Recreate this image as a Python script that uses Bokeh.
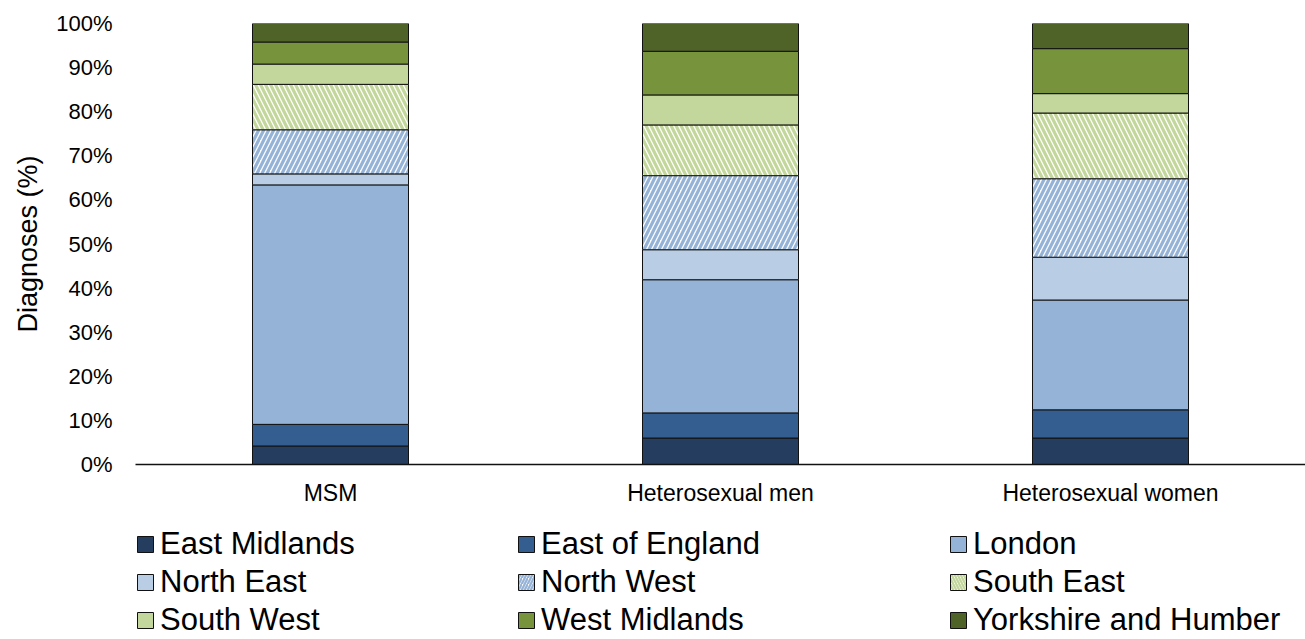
from bokeh.plotting import figure
from bokeh.layouts import column
from bokeh.models import Range1d, FixedTicker, PrintfTickFormatter, Legend, LegendItem
from bokeh.embed import file_html
from bokeh.resources import INLINE

groups = ["MSM", "Heterosexual men", "Heterosexual women"]
regions = ["East Midlands", "East of England", "London", "North East", "North West",
           "South East", "South West", "West Midlands", "Yorkshire and Humber"]

east_midlands = [4.2, 6.0, 6.0]
east_of_england = [4.9, 5.7, 6.4]
london = [54.3, 30.2, 24.9]
north_east = [2.5, 6.8, 9.7]
north_west = [10.0, 16.8, 17.8]
south_east = [10.3, 11.5, 14.9]
south_west = [4.6, 6.8, 4.4]
west_midlands = [5.0, 9.9, 10.2]
yorkshire_humber = [4.2, 6.3, 5.7]

y_ticks = [0, 10, 20, 30, 40, 50, 60, 70, 80, 90, 100]

series = [east_midlands, east_of_england, london, north_east, north_west,
          south_east, south_west, west_midlands, yorkshire_humber]
keys = ["em", "eoe", "lon", "ne", "nw", "se", "sw", "wm", "yh"]

fills = ["#253D5F", "#335E8F", "#95B3D7", "#B9CDE5", "white", "white",
         "#C3D69B", "#77933C", "#4F6228"]
hatch_colors = ["black"] * 4 + ["#95B3D7", "#C3D69B"] + ["black"] * 3
hatches = [" ", " ", " ", " ", "/", "\\", " ", " ", " "]

data = {"group": groups}
for k, s in zip(keys, series):
    data[k] = s

FONT = "Liberation Sans"
HS, HW = 10, 3.2

p = figure(x_range=groups, y_range=Range1d(0, 100), width=1305, height=508,
           output_backend="svg", toolbar_location=None,
           min_border_left=135, min_border_right=0, min_border_top=23,
           min_border_bottom=44)

renderers = p.vbar_stack(keys, x="group", width=0.4, source=data,
                         fill_color=fills, line_color="#111111", line_width=1,
                         hatch_pattern=hatches, hatch_color=hatch_colors,
                         hatch_scale=HS, hatch_weight=HW)

p.outline_line_color = None
p.grid.grid_line_color = None
p.x_range.range_padding = 0

p.yaxis.ticker = FixedTicker(ticks=y_ticks)
p.yaxis.formatter = PrintfTickFormatter(format="%d%%")
p.yaxis.axis_line_color = None
p.yaxis.major_tick_line_color = None
p.yaxis.minor_tick_line_color = None
p.yaxis.major_tick_out = 0
p.yaxis.major_tick_in = 0
p.yaxis.major_label_standoff = 23
p.yaxis.major_label_text_font = FONT
p.yaxis.major_label_text_font_size = "22px"
p.yaxis.major_label_text_color = "black"
p.yaxis.axis_label = "Diagnoses (%)"
p.yaxis.axis_label_text_font = FONT
p.yaxis.axis_label_text_font_size = "27px"
p.yaxis.axis_label_text_font_style = "normal"
p.yaxis.axis_label_text_color = "black"
p.yaxis.axis_label_standoff = 10

p.xaxis.axis_line_color = "#111111"
p.xaxis.axis_line_width = 1.5
p.xaxis.major_tick_line_color = None
p.xaxis.minor_tick_line_color = None
p.xaxis.major_tick_out = 0
p.xaxis.major_tick_in = 0
p.xaxis.major_label_standoff = 15
p.xaxis.major_label_text_font = FONT
p.xaxis.major_label_text_font_size = "23px"
p.xaxis.major_label_text_color = "black"

# legend panel (swatch renderers sit outside the visible range; only the legend shows)
lg = figure(width=1305, height=131, x_range=Range1d(0, 1), y_range=Range1d(0, 1),
            x_axis_location=None, y_axis_location=None,
            output_backend="svg", toolbar_location=None,
            min_border_left=0, min_border_right=0, min_border_top=0, min_border_bottom=0)
lg.grid.grid_line_color = None
lg.outline_line_color = None

swatches = []
for i in range(9):
    r = lg.vbar(x=[5], top=[6], bottom=[5], width=0.1, fill_color=fills[i],
                line_color="#111111", line_width=1, hatch_pattern=hatches[i],
                hatch_color=hatch_colors[i], hatch_scale=HS * 0.6, hatch_weight=HW * 0.7)
    swatches.append(r)

col_x = [0, 381, 813]
for c in range(3):
    items = [LegendItem(label=regions[r * 3 + c], renderers=[swatches[r * 3 + c]])
             for r in range(3)]
    leg = Legend(items=items, location=(col_x[c], 0), orientation="vertical",
                 padding=0, margin=0, spacing=0, label_standoff=5,
                 glyph_width=20, glyph_height=20, label_height=38,
                 label_text_font=FONT, label_text_font_size="31px",
                 label_text_color="black", border_line_color=None,
                 background_fill_alpha=0)
    lg.add_layout(leg, "center")

layout = column(p, lg, spacing=0)
open("out.html", "w").write(file_html(layout, INLINE))
